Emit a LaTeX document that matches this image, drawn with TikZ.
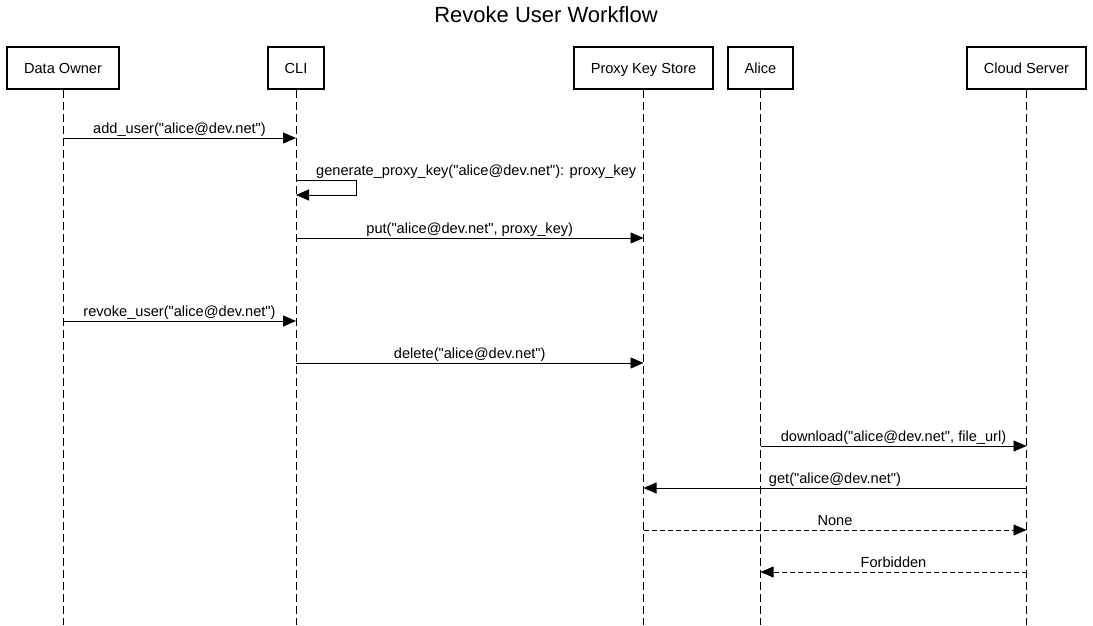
\documentclass[tikz,border=0pt]{standalone}
\usepackage{fontspec}
\setmainfont{Liberation Sans}[Ligatures=TeXOff]
\usetikzlibrary{arrows.meta}

\begin{document}
\begin{tikzpicture}[
  x=1pt, y=-1pt,
  font=\fontsize{14.6}{17}\selectfont,
  actor/.style={draw=black, line width=2pt, fill=white,
    minimum height=42pt, inner xsep=0pt, align=center,
    text height=10.5pt, text depth=0pt},
  lifeline/.style={line width=1pt, dash pattern=on 8pt off 4pt},
  msg/.style={-{Triangle[length=13pt,width=11pt]}, line width=0.9pt},
  reply/.style={msg, dash pattern=on 5pt off 3pt},
  lbl/.style={above=0pt, inner sep=1pt, text depth=3.2pt}
]
\useasboundingbox (0,0) rectangle (1093,625);

\node[font=\fontsize{22}{26}\selectfont] (title) at (546,15) {Revoke User Workflow};

% participants
\node[actor, minimum width=112pt] (owner) at (63,68) {Data Owner};
\node[actor, minimum width=56pt] (cli) at (296,68) {CLI};
\node[actor, minimum width=139pt] (store) at (643.5,68) {Proxy Key Store};
\node[actor, minimum width=65pt] (alice) at (760.5,68) {Alice};
\node[actor, minimum width=119pt] (cloud) at (1026.5,68) {Cloud Server};

% lifelines
\coordinate (bottom) at (0,625);
\foreach \p in {owner,cli,store,alice,cloud}
  \draw[lifeline] (\p.south) -- (\p.south |- bottom);

% message rows
\coordinate (m1) at (0,138);
\coordinate (m2) at (0,180);
\coordinate (m2b) at (356,195);
\coordinate (m3) at (0,238);
\coordinate (m4) at (0,321);
\coordinate (m5) at (0,363);
\coordinate (m6) at (0,446);
\coordinate (m7) at (0,488);
\coordinate (m8) at (0,530);
\coordinate (m9) at (0,572);

\draw[msg] (owner |- m1) -- node[lbl] {add\_user("alice@dev.net")} (cli |- m1);
\draw[msg] (cli |- m2) -| (m2b) -- (cli |- m2b);
\node[anchor=south west, inner sep=1pt, text depth=3.2pt] (selflbl) at ([xshift=19pt]cli |- m2)
  {generate\_proxy\_key("alice@dev.net"): proxy\_key};
\draw[msg] (cli |- m3) -- node[lbl] {put("alice@dev.net", proxy\_key)} (store |- m3);
\draw[msg] (owner |- m4) -- node[lbl] {revoke\_user("alice@dev.net")} (cli |- m4);
\draw[msg] (cli |- m5) -- node[lbl] {delete("alice@dev.net")} (store |- m5);
\draw[msg] (alice |- m6) -- node[lbl] {download("alice@dev.net", file\_url)} (cloud |- m6);
\draw[msg] (cloud |- m7) -- node[lbl] {get("alice@dev.net")} (store |- m7);
\draw[reply] (store |- m8) -- node[lbl] {None} (cloud |- m8);
\draw[reply] (cloud |- m9) -- node[lbl] {Forbidden} (alice |- m9);

\end{tikzpicture}
\end{document}
